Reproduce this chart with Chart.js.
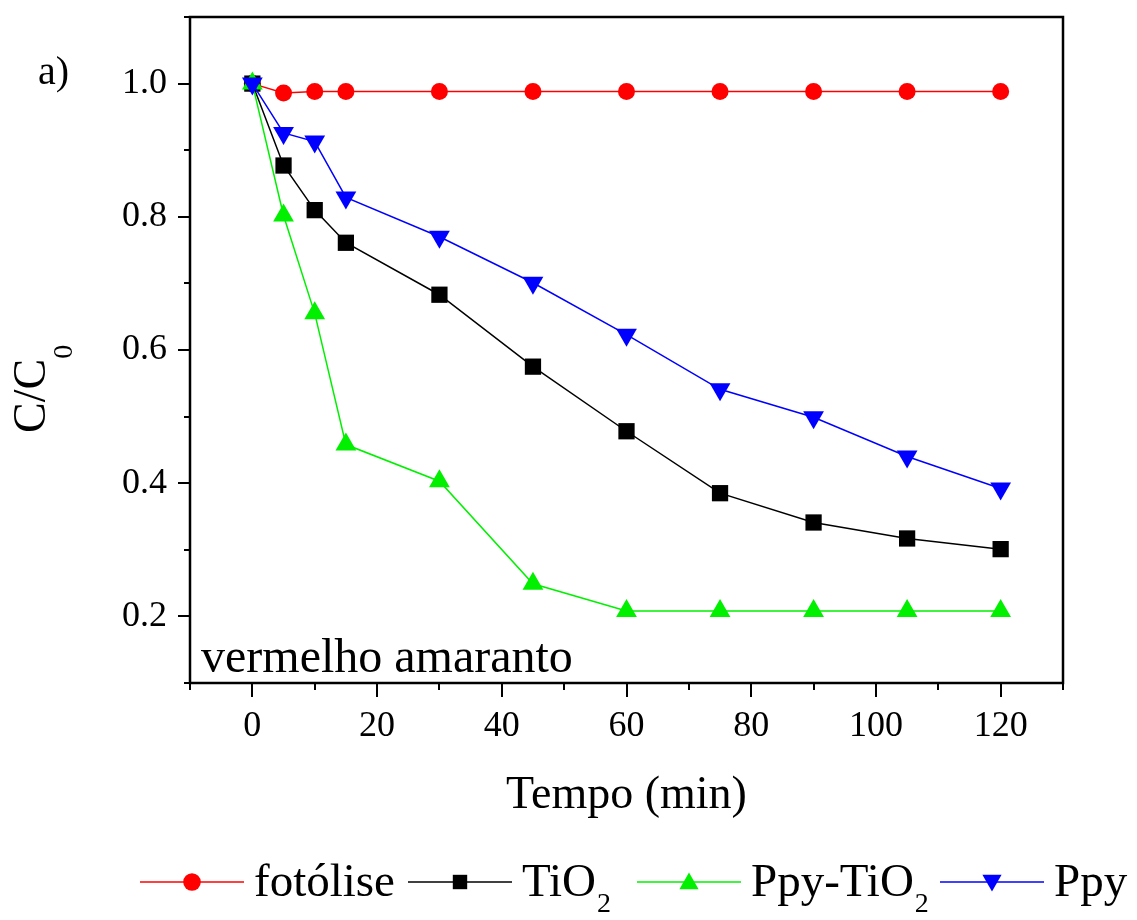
<!DOCTYPE html>
<html>
<head>
<meta charset="utf-8">
<script src="https://cdn.jsdelivr.net/npm/chart.js@4/dist/chart.umd.min.js"></script>
<style>
  body { margin: 0; background: #fff; }
  #wrap { width: 1137px; height: 920px; }
</style>
</head>
<body>
<div id="wrap"><canvas id="chart" width="1137" height="920"></canvas></div>
<script>
const times = [0, 5, 10, 15, 30, 45, 60, 75, 90, 105, 120];
const fotolise = [1.0, 0.986, 0.988, 0.988, 0.988, 0.988, 0.988, 0.988, 0.988, 0.988, 0.988];
const tio2 = [1.0, 0.877, 0.810, 0.761, 0.683, 0.575, 0.478, 0.385, 0.341, 0.317, 0.301];
const ppyTio2 = [1.0, 0.802, 0.655, 0.458, 0.403, 0.249, 0.208, 0.208, 0.208, 0.208, 0.208];
const ppy = [1.0, 0.926, 0.913, 0.829, 0.770, 0.701, 0.623, 0.541, 0.499, 0.440, 0.392];

const FONT = "'Liberation Serif', 'Times New Roman', serif";
const GREEN = "#00f000";

function pts(vals) {
  return vals.map((v, i) => ({ x: times[i], y: v }));
}

// legend entries (name, subscript, color, marker)
const legendItems = [
  { text: "fotólise", sub: "", color: "#ff0000", marker: "circle", x: 140 },
  { text: "TiO", sub: "2", color: "#000000", marker: "rect", x: 408 },
  { text: "Ppy-TiO", sub: "2", color: GREEN, marker: "triangle", x: 637 },
  { text: "Ppy", sub: "", color: "#0000ff", marker: "down", x: 940 },
];

function drawMarker(ctx, type, x, y, s, color) {
  ctx.fillStyle = color;
  ctx.beginPath();
  if (type === "circle") {
    ctx.arc(x, y, s * 0.55, 0, Math.PI * 2);
  } else if (type === "rect") {
    ctx.rect(x - s * 0.45, y - s * 0.45, s * 0.9, s * 0.9);
  } else if (type === "triangle") {
    ctx.moveTo(x, y - s * 0.6);
    ctx.lineTo(x + s * 0.6, y + s * 0.45);
    ctx.lineTo(x - s * 0.6, y + s * 0.45);
  } else {
    ctx.moveTo(x, y + s * 0.6);
    ctx.lineTo(x + s * 0.6, y - s * 0.45);
    ctx.lineTo(x - s * 0.6, y - s * 0.45);
  }
  ctx.closePath();
  ctx.fill();
}

const decor = {
  id: "decor",
  afterDraw(chart) {
    const ctx = chart.ctx;
    const a = chart.chartArea;
    const xs = chart.scales.x, ys = chart.scales.y;
    ctx.save();
    // frame
    ctx.strokeStyle = "#000";
    ctx.lineWidth = 2.5;
    ctx.strokeRect(a.left, a.top, a.right - a.left, a.bottom - a.top);
    // ticks
    ctx.lineWidth = 2;
    ctx.beginPath();
    xs.ticks.forEach(t => {
      const px = Math.round(xs.getPixelForValue(t.value));
      const len = t.value % 20 === 0 ? 14 : 7;
      ctx.moveTo(px, a.bottom);
      ctx.lineTo(px, a.bottom + len);
    });
    ys.ticks.forEach(t => {
      const py = Math.round(ys.getPixelForValue(t.value));
      const len = Math.round(t.value * 10) % 2 === 0 ? 12 : 6;
      ctx.moveTo(a.left, py);
      ctx.lineTo(a.left - len, py);
    });
    ctx.stroke();

    ctx.fillStyle = "#000";
    ctx.textBaseline = "alphabetic";
    // x title
    ctx.font = "46px " + FONT;
    ctx.textAlign = "center";
    ctx.fillText("Tempo (min)", (a.left + a.right) / 2, 808);
    // y title C/C0
    ctx.save();
    ctx.translate(45, 433);
    ctx.rotate(-Math.PI / 2);
    ctx.textAlign = "left";
    ctx.font = "46px " + FONT;
    ctx.fillText("C/C", 0, 0);
    const w = ctx.measureText("C/C").width;
    ctx.font = "28px " + FONT;
    ctx.fillText("0", w, 27);
    ctx.restore();
    // a)
    ctx.textAlign = "left";
    ctx.font = "40px " + FONT;
    ctx.fillText("a)", 38, 84);
    // sample name
    ctx.font = "48px " + FONT;
    ctx.fillText("vermelho amaranto", 201, 672);

    // legend
    legendItems.forEach(it => {
      ctx.strokeStyle = it.color;
      ctx.lineWidth = 1.5;
      ctx.beginPath();
      ctx.moveTo(it.x, 882);
      ctx.lineTo(it.x + 104, 882);
      ctx.stroke();
      drawMarker(ctx, it.marker, it.x + 52, 882, 16, it.color);
      ctx.fillStyle = "#000";
      ctx.font = "47px " + FONT;
      ctx.textAlign = "left";
      ctx.fillText(it.text, it.x + 114, 896);
      if (it.sub) {
        const tw = ctx.measureText(it.text).width;
        ctx.font = "28px " + FONT;
        ctx.fillText(it.sub, it.x + 114 + tw + 1, 912);
      }
    });
    ctx.restore();
  }
};

const ds = (label, data, color, style, radius, rotation, order) => ({
  label,
  data: pts(data),
  borderColor: color,
  backgroundColor: color,
  borderWidth: 1.5,
  pointStyle: style,
  pointRadius: radius,
  pointHoverRadius: radius,
  pointRotation: rotation,
  pointBorderWidth: 0,
  tension: 0,
  order,
});

new Chart(document.getElementById("chart"), {
  type: "line",
  data: {
    datasets: [
      ds("fotólise", fotolise, "#ff0000", "circle", 8.5, 0, 4),
      ds("TiO₂", tio2, "#000000", "rect", 11.5, 0, 3),
      ds("Ppy-TiO₂", ppyTio2, GREEN, "triangle", 12, 0, 2),
      ds("Ppy", ppy, "#0000ff", "triangle", 12, 180, 1),
    ],
  },
  options: {
    responsive: false,
    animation: false,
    layout: { padding: { top: 17, right: 74, left: 0, bottom: 0 } },
    plugins: { legend: { display: false }, tooltip: { enabled: false } },
    scales: {
      x: {
        type: "linear",
        min: -10,
        max: 130,
        grid: { display: false },
        border: { display: false },
        afterFit: s => {
          s.height = 237;
          s.paddingLeft = 0;
          s.paddingRight = 0;
        },
        ticks: {
          stepSize: 10,
          padding: 14,
          color: "#000",
          font: { family: FONT, size: 36 },
          maxRotation: 0,
          autoSkip: false,
          callback: v => (v % 20 === 0 && v >= 0 && v <= 120 ? v : ""),
        },
      },
      y: {
        min: 0.1,
        max: 1.1,
        grid: { display: false },
        border: { display: false },
        afterFit: s => {
          s.width = 190;
          s.paddingTop = 0;
          s.paddingBottom = 0;
        },
        ticks: {
          stepSize: 0.1,
          padding: 15,
          color: "#000",
          font: { family: FONT, size: 36 },
          autoSkip: false,
          callback: v => {
            const k = Math.round(v * 10);
            return k % 2 === 0 && k >= 2 && k <= 10 ? (k / 10).toFixed(1) : "";
          },
        },
      },
    },
  },
  plugins: [decor],
});
</script>
</body>
</html>
